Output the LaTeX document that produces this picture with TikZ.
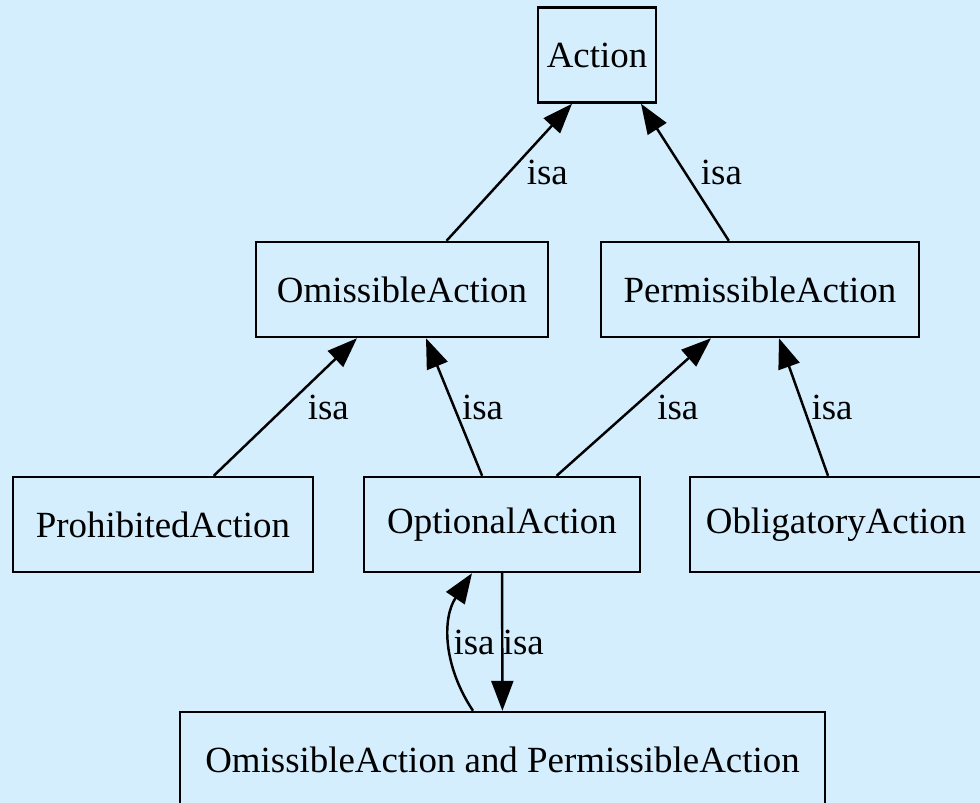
\documentclass[tikz,border=0pt]{standalone}
\usepackage{fontspec}
\setmainfont{Liberation Serif}
\usepackage{tikz}
\usetikzlibrary{arrows.meta}
\definecolor{bgblue}{RGB}{212,238,254}

\begin{document}
\begin{tikzpicture}[
        x=0.02cm, y=-0.02cm,
        box/.style={rectangle, draw, line width=1.4pt, minimum height=1.9cm, inner xsep=0pt, font=\fontsize{21}{25}\selectfont, align=center},
        isa/.style={-{Triangle[length=0.6cm, width=0.44cm]}, line width=1.4pt},
        lbl/.style={font=\fontsize{21}{25}\selectfont, inner sep=0pt}
    ]
        \fill[bgblue] (0,0) rectangle (980,803);
        \useasboundingbox (0,0) rectangle (980,803);

        \node[box, minimum width=2.36cm] (action) at (597,55) {Action};
        \node[box, minimum width=5.84cm] (omiss) at (402,289.5) {OmissibleAction};
        \node[box, minimum width=6.36cm] (perm) at (760,289.5) {PermissibleAction};
        \node[box, minimum width=6.0cm] (prohib) at (163,524.5) {ProhibitedAction};
        \node[box, minimum width=5.52cm] (opt) at (502,524.5) {OptionalAction};
        \node[box, minimum width=5.84cm] (oblig) at (836,524.5) {ObligatoryAction};
        \node[box, minimum width=12.9cm] (both) at (502.5,759.5) {OmissibleAction and PermissibleAction};

        \draw[isa] (omiss) -- node[lbl, midway, xshift=0.76cm] {isa} ([xshift=-0.5cm]action.south);
        \draw[isa] (perm) -- node[lbl, midway, xshift=0.73cm] {isa} ([xshift=0.88cm]action.south);
        \draw[isa] (prohib) -- node[lbl, midway, xshift=0.86cm] {isa} ([xshift=-0.9cm]omiss.south);
        \draw[isa] (opt) -- node[lbl, midway, xshift=0.57cm] {isa} ([xshift=0.48cm]omiss.south);
        \draw[isa] (opt) -- node[lbl, midway, xshift=0.88cm] {isa} ([xshift=-0.98cm]perm.south);
        \draw[isa] ([xshift=-0.16cm]oblig.north) -- node[lbl, midway, xshift=0.57cm] {isa} ([xshift=0.38cm]perm.south);
        \draw[isa] (opt) -- node[lbl, midway, xshift=0.42cm] {isa} (both);
        \draw[isa] ([xshift=-0.59cm]both.north) .. controls +(-30,-45) and +(-30,45) .. node[lbl, midway, xshift=0.48cm] {isa} ([xshift=-0.6cm]opt.south);
    \end{tikzpicture}
\end{document}
